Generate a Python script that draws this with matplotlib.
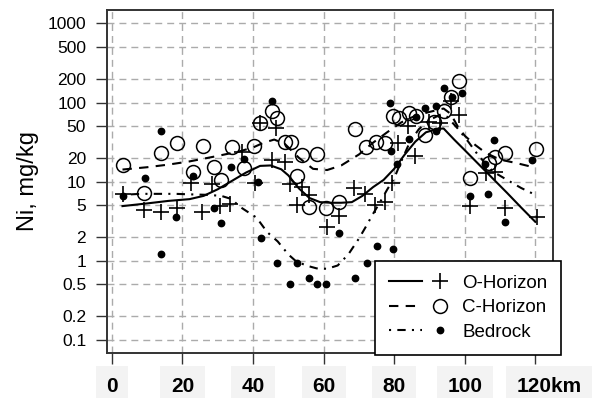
"""
Ni concentration along a 120 km transect: O-horizon, C-horizon and bedrock
samples with their smoothed trends (log y axis).
"""

import matplotlib
matplotlib.use("Agg")
import matplotlib.pyplot as plt
from matplotlib.lines import Line2D
from matplotlib.legend_handler import HandlerTuple
from matplotlib.transforms import ScaledTranslation

plt.rcParams["font.family"] = ["Liberation Sans", "DejaVu Sans"]

# ------------------------------------------------------------
# samples (km along transect, Ni mg/kg)
# ------------------------------------------------------------
O_KM = [3, 9, 14, 18.5, 22.5, 25.5, 28.5, 30.5, 33.5, 37, 40.5, 42, 45.5,
        46.5, 49, 50.5, 52.5, 54, 56, 61, 64.4, 68.6, 71.7, 74.6, 77.4,
        79.5, 81, 84, 86, 90, 93, 96, 98.5, 101.5, 106, 108.5, 111.4, 120.5]
O_NI = [7, 4.4, 4.1, 4.7, 9.7, 4.1, 9.3, 4.9, 5.2, 24, 9.7, 55, 19,
        48, 17.5, 9.3, 5.1, 8.6, 6.8, 2.7, 3.7, 8.4, 7, 5.1, 5.6,
        9.5, 31, 50, 21, 56, 55, 103, 70, 4.9, 13, 13.4, 4.7, 3.6]

C_KM = [3, 9, 14, 18.4, 23, 25.8, 29, 31, 34, 37.5, 40.3, 42, 45.5, 46.8,
        49, 50.8, 52.4, 54, 56, 58, 60.7, 64.4, 68.8, 72, 74.8, 77.4, 79.8,
        81.3, 84.2, 86.2, 88.8, 91.2, 94, 96, 98.4, 101.5, 106.8, 108.6,
        111.4, 120.2]
C_NI = [16, 7.2, 23, 31, 13.4, 28.5, 15.5, 10.6, 27.7, 15, 28, 55, 78, 64,
        32, 32, 11.6, 22, 4.8, 22.6, 4.6, 5.6, 46, 27.5, 32, 31, 67,
        63, 74, 68, 39, 56, 78, 119, 186, 11, 17.4, 20.3,
        23, 25.5]

B_KM = [3, 9.4, 14, 14, 18.3, 23, 29, 31, 33.8, 37.4, 41.5, 42.2, 45.5,
        46.8, 50.6, 52.4, 56, 58, 60.7, 64.4, 69, 72.2, 75, 78.7, 79.2, 79.7,
        80.8, 84.3, 86.1, 88.7, 92, 92, 94, 96.3, 99.3, 101.5, 105.8, 106.6,
        108.3, 111.4, 119]
B_NI = [6.6, 11.2, 43, 1.23, 3.6, 11.8, 4.7, 3.0, 15.3, 19.3, 10, 1.95, 103,
        0.93, 0.51, 0.93, 0.61, 0.51, 0.51, 2.26, 0.61, 0.93, 1.52, 100, 24.6,
        1.42, 16.7, 35, 66, 86, 90, 44, 154, 119, 132, 6.6, 16.6, 6.9,
        34, 3.1, 18.7]

# smoothed trend curves
O_FIT_KM = [3, 10, 16, 22, 26, 30, 34, 38, 42, 45, 48, 50, 53, 56, 59, 62,
            65, 68, 71, 74, 77, 80, 83, 86, 89, 92, 94, 97, 100, 104, 108,
            112, 116, 120]
O_FIT_NI = [4.9, 5.3, 5.7, 6.0, 6.6, 8.0, 10.2, 13.0, 15.8, 16.0, 14.3, 12,
            8.2, 6.2, 5.5, 5.4, 5.4, 5.5, 6.6, 8.5, 10.5, 14.5, 22, 32, 42,
            46, 47, 34, 25, 16.5, 10.9, 7.2, 4.7, 3.1]

C_FIT_KM = [3, 10, 16, 22, 29, 36, 40, 43, 46, 49, 53, 57, 61, 65, 70, 74,
            78, 82, 86, 90, 94, 96, 98, 100, 103, 106, 110, 115, 120]
C_FIT_NI = [14.2, 15.2, 16.4, 18, 20.7, 24, 27, 31, 34, 30, 20, 14.5, 14,
            16, 22, 31, 42, 56, 68, 76, 84, 72, 50, 38, 29, 23, 19, 17, 15]

B_FIT_KM = [3, 8, 13, 18, 22, 27, 31, 34, 36, 39, 41, 44, 47, 50, 52, 55,
            58, 61, 64, 67, 70, 72, 74, 76, 78, 80, 82, 84.5, 87, 90, 93, 95,
            98, 101, 104, 108, 112, 116, 120]
B_FIT_NI = [6.8, 7, 7, 7, 6.9, 6.8, 6.6, 6.0, 4.9, 4.0, 3.5, 2.3, 1.75, 1.2,
            1.0, 0.87, 0.8, 0.79, 0.87, 1.2, 1.9, 2.7, 3.9, 5.5, 7.9, 11, 18,
            32, 46, 60, 70, 66, 47, 32, 21, 13.4, 10.5, 8.3, 6.8]

# axis ticks
X_TICKS = [0, 20, 40, 60, 80, 100, 120]
X_TICK_LABELS = ["0", "20", "40", "60", "80", "100", "120km"]
Y_TICKS = [1000, 500, 200, 100, 50, 20, 10, 5, 2, 1, 0.5, 0.2, 0.1]
Y_TICK_LABELS = ["1000", "500", "200", "100", "50", "20", "10", "5", "2",
                 "1", "0.5", "0.2", "0.1"]

LEGEND_LABELS = ["O-Horizon", "C-Horizon", "Bedrock"]

# 线型
LW = 1.5
LS_O = "-"
LS_C = (0, (4.5, 3.5))
LS_B = (0, (1, 3, 4, 3))
GRID_COLOR = "#ababab"
FRAME_COLOR = "#333333"


def draw(ax):
    ax.set_yscale("log")
    ax.set_xlim(-1.4, 125)
    ax.set_ylim(0.068, 1480)

    # dashed grid at every tick
    for x in X_TICKS:
        ax.axvline(x, color=GRID_COLOR, lw=1.0, ls=(0, (5, 3.6)), zorder=0)
    for y in Y_TICKS:
        ax.axhline(y, color=GRID_COLOR, lw=1.0, ls=(0, (5, 3.6)), zorder=0)

    ax.plot(O_FIT_KM, O_FIT_NI, color="k", lw=LW, ls=LS_O, zorder=3)
    ax.plot(C_FIT_KM, C_FIT_NI, color="k", lw=LW, ls=LS_C, zorder=3)
    ax.plot(B_FIT_KM, B_FIT_NI, color="k", lw=LW, ls=LS_B, zorder=3)

    ax.plot(O_KM, O_NI, ls="none", marker="+", ms=11, mew=1.2,
            color="k", zorder=4)
    ax.plot(C_KM, C_NI, ls="none", marker="o", ms=10, mew=1.1,
            mfc="none", mec="k", zorder=4)
    ax.plot(B_KM, B_NI, ls="none", marker="o", ms=4.6, color="k", zorder=4)


def style_axes(ax, fig):
    ax.set_yticks(Y_TICKS, Y_TICK_LABELS)
    ax.set_xticks(X_TICKS, X_TICK_LABELS)
    ax.minorticks_off()

    ax.tick_params(axis="both", direction="out", length=8, width=1.0,
                   color=FRAME_COLOR)
    ax.tick_params(axis="y", labelsize=12.5, pad=7)
    ax.tick_params(axis="x", labelsize=15, pad=9)

    for lab in ax.get_xticklabels():
        lab.set_fontweight("bold")
        lab.set_bbox(dict(boxstyle="square,pad=0.5", facecolor="#f3f3f3",
                          edgecolor="none"))
    # "120km": keep the number centred on its tick
    last = ax.get_xticklabels()[-1]
    last.set_transform(last.get_transform()
                       + ScaledTranslation(0.14, 0, fig.dpi_scale_trans))

    for sp in ax.spines.values():
        sp.set_color(FRAME_COLOR)
        sp.set_linewidth(1.4)

    ax.set_ylabel("Ni, mg/kg", fontsize=17)
    ax.yaxis.set_label_coords(-0.152, 0.5)


def add_legend(ax):
    lines = [Line2D([], [], color="k", lw=LW, ls=ls)
             for ls in (LS_O, LS_C, LS_B)]
    marks = [
        Line2D([], [], ls="none", marker="+", ms=11, mew=1.2, color="k"),
        Line2D([], [], ls="none", marker="o", ms=10, mew=1.1,
               mfc="none", mec="k"),
        Line2D([], [], ls="none", marker="o", ms=4.6, color="k"),
    ]
    handles = list(zip(lines, marks))
    leg = ax.legend(handles, LEGEND_LABELS,
                    handler_map={tuple: HandlerTuple(ndivide=None, pad=0.1)},
                    loc="lower left", bbox_to_anchor=(0.601, -0.006),
                    borderaxespad=0, fontsize=13.5, numpoints=1,
                    handlelength=3.6, handletextpad=0.3, labelspacing=0.4,
                    borderpad=0.75, fancybox=False, framealpha=1,
                    edgecolor="k")
    leg.get_frame().set_linewidth(1.2)
    leg.set_zorder(10)


def main():
    fig = plt.figure(figsize=(6.01, 3.98), dpi=100)
    ax = fig.add_axes([0.178, 0.113, 0.742, 0.862])
    draw(ax)
    style_axes(ax, fig)
    add_legend(ax)
    fig.savefig("out.png", dpi=100)
    plt.close(fig)


if __name__ == "__main__":
    main()
